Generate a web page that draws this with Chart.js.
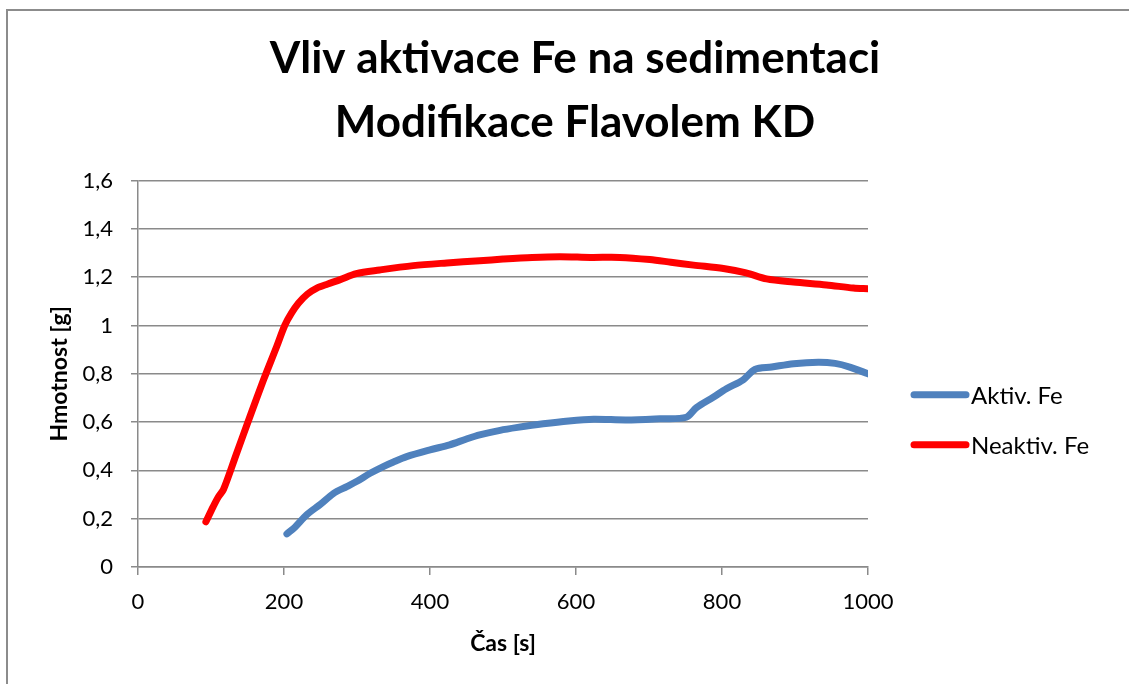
<!DOCTYPE html>
<html>
<head>
<meta charset="UTF-8">
<title>Vliv aktivace Fe na sedimentaci</title>
<style>
  body { margin: 0; background: #fff; }
  #box { position: relative; width: 1129px; height: 684px; }
</style>
</head>
<body>
<div id="box">
  <canvas id="graf"></canvas>
</div>

<script src="https://cdn.jsdelivr.net/npm/chart.js@4/dist/chart.umd.min.js"></script>
<script>
  var titleLines = ['Vliv aktivace Fe na sedimentaci', 'Modifikace Flavolem KD'];
  var xTitle = 'Čas [s]';
  var yTitle = 'Hmotnost [g]';
  var seriesNames = ['Aktiv. Fe', 'Neaktiv. Fe'];
  var seriesColors = ['#4F81BD', '#FF0000'];

  // Aktiv. Fe
  var casAktiv = [204, 215, 231, 250, 268, 286, 300, 318, 336, 350, 368, 400, 427, 450, 468,
                  496, 520, 555, 590, 624, 669, 715, 751, 765, 788, 806, 829, 845, 868, 898,
                  932, 955, 975, 1000];
  var hmotAktiv = [0.137, 0.165, 0.216, 0.26, 0.305, 0.333, 0.355, 0.388, 0.416, 0.435, 0.457,
                   0.485, 0.506, 0.53, 0.547, 0.566, 0.578, 0.593, 0.605, 0.612, 0.609, 0.614,
                   0.62, 0.66, 0.703, 0.738, 0.775, 0.818, 0.828, 0.842, 0.848, 0.843, 0.828, 0.80];

  // Neaktiv. Fe
  var casNeaktiv = [93, 103, 110, 117, 135, 153, 172, 190, 201, 210, 220, 232, 245, 260, 277,
                    299, 331, 377, 423, 468, 500, 540, 578, 620, 660, 701, 730, 761, 802, 833,
                    861, 898, 943, 980, 1000];
  var hmotNeaktiv = [0.187, 0.25, 0.29, 0.32, 0.47, 0.62, 0.775, 0.913, 1.0, 1.05, 1.093, 1.13,
                     1.155, 1.172, 1.19, 1.215, 1.23, 1.248, 1.259, 1.268, 1.275, 1.282, 1.285,
                     1.282, 1.282, 1.273, 1.262, 1.25, 1.236, 1.218, 1.193, 1.18, 1.168, 1.155, 1.152];

  var xTicks = [0, 200, 400, 600, 800, 1000];
  var yTicks = [0, 0.2, 0.4, 0.6, 0.8, 1, 1.2, 1.4, 1.6];

  var toPoints = function(xs, ys) {
    return xs.map((x, i) => ({ x: x, y: ys[i] }));
  };

  var font = 'Lato';
  var gridColor = '#8a8a8a';

  // gray frame round the chart (top and left edge only, as in the picture)
  var framePlugin = {
    id: 'frame',
    beforeDraw: function(chart) {
      var ctx = chart.ctx;
      ctx.save();
      ctx.strokeStyle = '#8c8c8c';
      ctx.lineWidth = 2;
      ctx.beginPath();
      ctx.moveTo(7, chart.height);
      ctx.lineTo(7, 10);
      ctx.lineTo(chart.width, 10);
      ctx.stroke();
      ctx.restore();
    }
  };

  // legend to the right of the plot, line sample + text
  var legendPlugin = {
    id: 'sideLegend',
    afterDraw: function(chart) {
      var ctx = chart.ctx;
      var area = chart.chartArea;
      var x0 = area.right + 46;
      var yMid = (area.top + area.bottom) / 2 + 46;
      ctx.save();
      chart.data.datasets.forEach(function(ds, i) {
        var y = yMid - 25 + i * 50;
        ctx.strokeStyle = ds.borderColor;
        ctx.lineWidth = 7;
        ctx.lineCap = 'round';
        ctx.beginPath();
        ctx.moveTo(x0, y);
        ctx.lineTo(x0 + 52, y);
        ctx.stroke();
        ctx.fillStyle = '#000';
        ctx.font = '24px ' + font;
        ctx.textBaseline = 'middle';
        ctx.fillText(ds.label, x0 + 57, y + 1);
      });
      ctx.restore();
    }
  };

  var ctx = document.getElementById('graf');

  var chart = new Chart(ctx, {
    type: 'line',
    data: {
      datasets: [
        { label: seriesNames[0], data: toPoints(casAktiv, hmotAktiv), borderColor: seriesColors[0],
          borderWidth: 7, pointRadius: 0, tension: 0.3, fill: false, borderCapStyle: 'round', borderJoinStyle: 'round' },
        { label: seriesNames[1], data: toPoints(casNeaktiv, hmotNeaktiv), borderColor: seriesColors[1],
          borderWidth: 7, pointRadius: 0, tension: 0.3, fill: false, borderCapStyle: 'round', borderJoinStyle: 'round' }
      ]
    },
    options: {
      responsive: true,
      maintainAspectRatio: false,
      animation: false,
      layout: { padding: { left: 21, right: 0, top: 0, bottom: 0 } },
      plugins: {
        legend: { display: false },
        tooltip: { enabled: false },
        title: {
          display: true,
          text: titleLines,
          color: '#000',
          font: { family: font, size: 44, weight: 'bold', lineHeight: 1.45 },
          padding: { top: 27, bottom: 26 }
        }
      },
      scales: {
        x: {
          type: 'linear',
          min: 0, max: 1000,
          afterBuildTicks: function(s) { s.ticks = xTicks.map(v => ({ value: v })); },
          afterFit: function(s) { s.height = 117; },
          grid: { drawOnChartArea: false, drawTicks: true, tickLength: 8, color: gridColor, lineWidth: 1.5 },
          border: { color: gridColor, width: 1.5 },
          ticks: {
            color: '#000', font: { family: font, size: 22 }, padding: 14, maxRotation: 0,
            callback: function(v) { return String(v); }
          },
          title: { display: true, text: xTitle, color: '#000', font: { family: font, size: 23, weight: 'bold' }, padding: 27 }
        },
        y: {
          type: 'linear',
          min: 0, max: 1.6,
          afterBuildTicks: function(s) { s.ticks = yTicks.map(v => ({ value: v })); },
          afterFit: function(s) { s.width = 117; },
          grid: { drawTicks: true, tickLength: 7, color: gridColor, lineWidth: 1.5 },
          border: { color: gridColor, width: 1.5 },
          ticks: {
            color: '#000', font: { family: font, size: 22 }, padding: 18,
            callback: function(v) { return String(Math.round(v * 10) / 10).replace('.', ','); }
          },
          title: { display: true, text: yTitle, color: '#000', font: { family: font, size: 23, weight: 'bold' }, padding: 25 }
        },
        yR: {
          type: 'linear',
          position: 'right',
          display: true,
          grid: { display: false },
          border: { display: false },
          ticks: { display: false },
          afterFit: function(s) { s.width = 261; }
        }
      }
    },
    plugins: [framePlugin, legendPlugin]
  });
</script>
</body>
</html>
